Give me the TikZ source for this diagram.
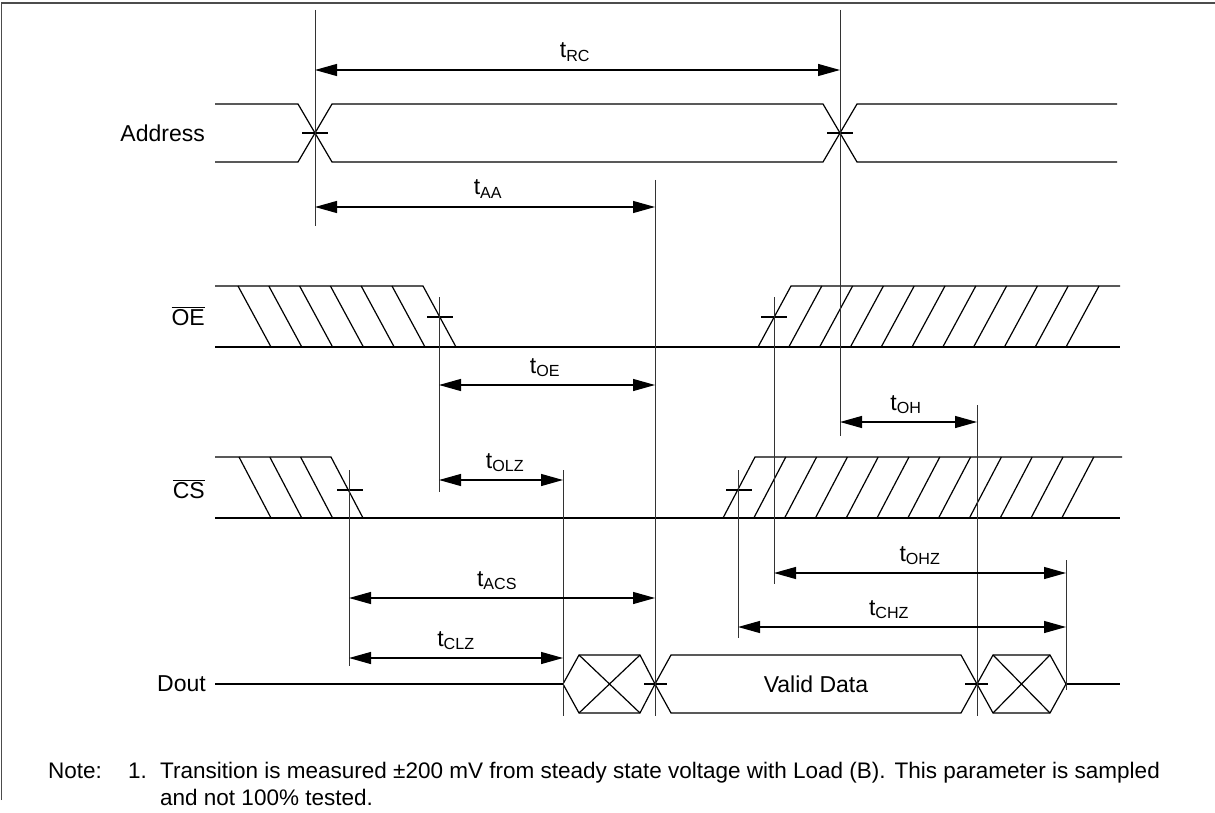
\documentclass[tikz,border=0pt]{standalone}
\usepackage{fontspec}
\setmainfont{Liberation Sans}
\usetikzlibrary{arrows.meta}
\begin{document}
\begin{tikzpicture}[x=1pt,y=-1pt,
  wave/.style={line width=1.2pt, line join=miter},
  guide/.style={line width=1pt, black!80},
  tick/.style={line width=1.1pt},
  dim/.style={line width=1.2pt, {Triangle[length=22pt,width=12pt]}-{Triangle[length=22pt,width=12pt]}},
  lab/.style={font=\fontsize{23}{27}\selectfont, inner sep=0pt},
  tlab/.style={font=\fontsize{23}{27}\selectfont, inner sep=0pt, anchor=base},
  note/.style={font=\fontsize{22.5}{26}\selectfont, inner sep=0pt, anchor=base west}]
\useasboundingbox (0,0) rectangle (1215,813);
% frame
\draw[line width=1.2pt, black!70] (1.5,800) -- (1.5,3) -- (1215,3);

% ---------- Address ----------
\node[lab, anchor=east] (addr) at (205,133) {Address};
\draw[wave] (215,104) -- (298,104) -- (332,162) -- (823,162) -- (857,104) -- (1117,104);
\draw[wave] (215,162) -- (298,162) -- (332,104) -- (823,104) -- (857,162) -- (1117,162);
\draw[tick] (302,133) -- (328,133);
\draw[tick] (827,133) -- (853,133);

% ---------- OE ----------
\node[lab, anchor=base east] (oe) at (205,325) {$\overline{\mbox{OE}}$};
\draw[wave] (215,286) -- (423,286) -- (456,347);
\draw[wave] (215,347) -- (1120,347);
\foreach \i in {0,...,5} \draw[wave] ({238+30.8*\i},286) -- ({271+30.8*\i},347);
\draw[wave] (758,347) -- (791,286) -- (1120,286);
\foreach \i in {1,...,10} \draw[wave] ({758+30.8*\i},347) -- ({791+30.8*\i},286);
\draw[tick] (427,317) -- (453,317);
\draw[tick] (761,317) -- (787,317);

% ---------- CS ----------
\node[lab, anchor=base east] (cs) at (205,498) {$\overline{\mbox{CS}}$};
\draw[wave] (215,457) -- (331,457) -- (363,518);
\draw[wave] (215,518) -- (1120,518);
\foreach \i in {0,...,2} \draw[wave] ({239+30.8*\i},457) -- ({271+30.8*\i},518);
\draw[wave] (723,518) -- (755,457) -- (1122,457);
\foreach \i in {1,...,11} \draw[wave] ({723+30.8*\i},518) -- ({755+30.8*\i},457);
\draw[tick] (337,490) -- (363,490);
\draw[tick] (726,490) -- (752,490);

% ---------- Dout ----------
\node[lab, anchor=east] (dout) at (206,684) {Dout};
\draw[wave] (215,684) -- (563,684);
\draw[wave] (563,684) -- (579,655) -- (640,655) -- (655,684) -- (640,713) -- (579,713) -- cycle;
\draw[wave] (579,655) -- (640,713) (579,713) -- (640,655);
\draw[wave] (655,684) -- (671,655) -- (961,655) -- (977,684) -- (961,713) -- (671,713) -- cycle;
\node[lab] (valid) at (816,684) {Valid Data};
\draw[wave] (977,684) -- (993,655) -- (1050,655) -- (1066,684) -- (1050,713) -- (993,713) -- cycle;
\draw[wave] (993,655) -- (1050,713) (993,713) -- (1050,655);
\draw[wave] (1066,684) -- (1120,684);
\draw[tick] (644,684) -- (667,684);
\draw[tick] (965,684) -- (988,684);

% ---------- guide lines ----------
\coordinate (g1t) at (315,10);  \coordinate (g1b) at (315,226);
\coordinate (g2t) at (840,10);  \coordinate (g2b) at (840,436);
\coordinate (g3t) at (655,180); \coordinate (g3b) at (655,716);
\coordinate (g4t) at (439,297); \coordinate (g4b) at (439,492);
\coordinate (g5t) at (774,297); \coordinate (g5b) at (774,584);
\coordinate (g6t) at (349,470); \coordinate (g6b) at (349,666);
\coordinate (g7t) at (738,470); \coordinate (g7b) at (738,638);
\coordinate (g8t) at (563,470); \coordinate (g8b) at (563,716);
\coordinate (g9t) at (977,405); \coordinate (g9b) at (977,716);
\coordinate (g10t) at (1066,560); \coordinate (g10b) at (1066,690);
\foreach \g in {1,...,10} \draw[guide] (g\g t) -- (g\g b);

% ---------- dimension arrows ----------
\draw[dim] (315,70) -- (840,70);
\node[tlab] (trc) at (575,58) {t\textsubscript{RC}};
\draw[dim] (315,207) -- (655,207);
\node[tlab] (taa) at (488,195) {t\textsubscript{AA}};
\draw[dim] (439,385) -- (655,385);
\node[tlab] (toe) at (545,373) {t\textsubscript{OE}};
\draw[dim] (840,422) -- (977,422);
\node[tlab] (toh) at (906,410) {t\textsubscript{OH}};
\draw[dim] (439,480) -- (563,480);
\node[tlab] (tolz) at (505,468) {t\textsubscript{OLZ}};
\draw[dim] (774,573) -- (1066,573);
\node[tlab] (tohz) at (920,561) {t\textsubscript{OHZ}};
\draw[dim] (349,598) -- (655,598);
\node[tlab] (tacs) at (497,586) {t\textsubscript{ACS}};
\draw[dim] (738,627) -- (1066,627);
\node[tlab] (tchz) at (889,615) {t\textsubscript{CHZ}};
\draw[dim] (349,658) -- (563,658);
\node[tlab] (tclz) at (456,646) {t\textsubscript{CLZ}};

% ---------- note ----------
\node[note] (n0) at (48,778) {Note:};
\node[note] (n1) at (128,778) {1.};
\node[note] (n2) at (160,778) {Transition is measured \textpm200 mV from steady state voltage with Load (B).\hspace{9pt}This parameter is sampled};
\node[note] (n3) at (160,805) {and not 100\% tested.};
\end{tikzpicture}
\end{document}
